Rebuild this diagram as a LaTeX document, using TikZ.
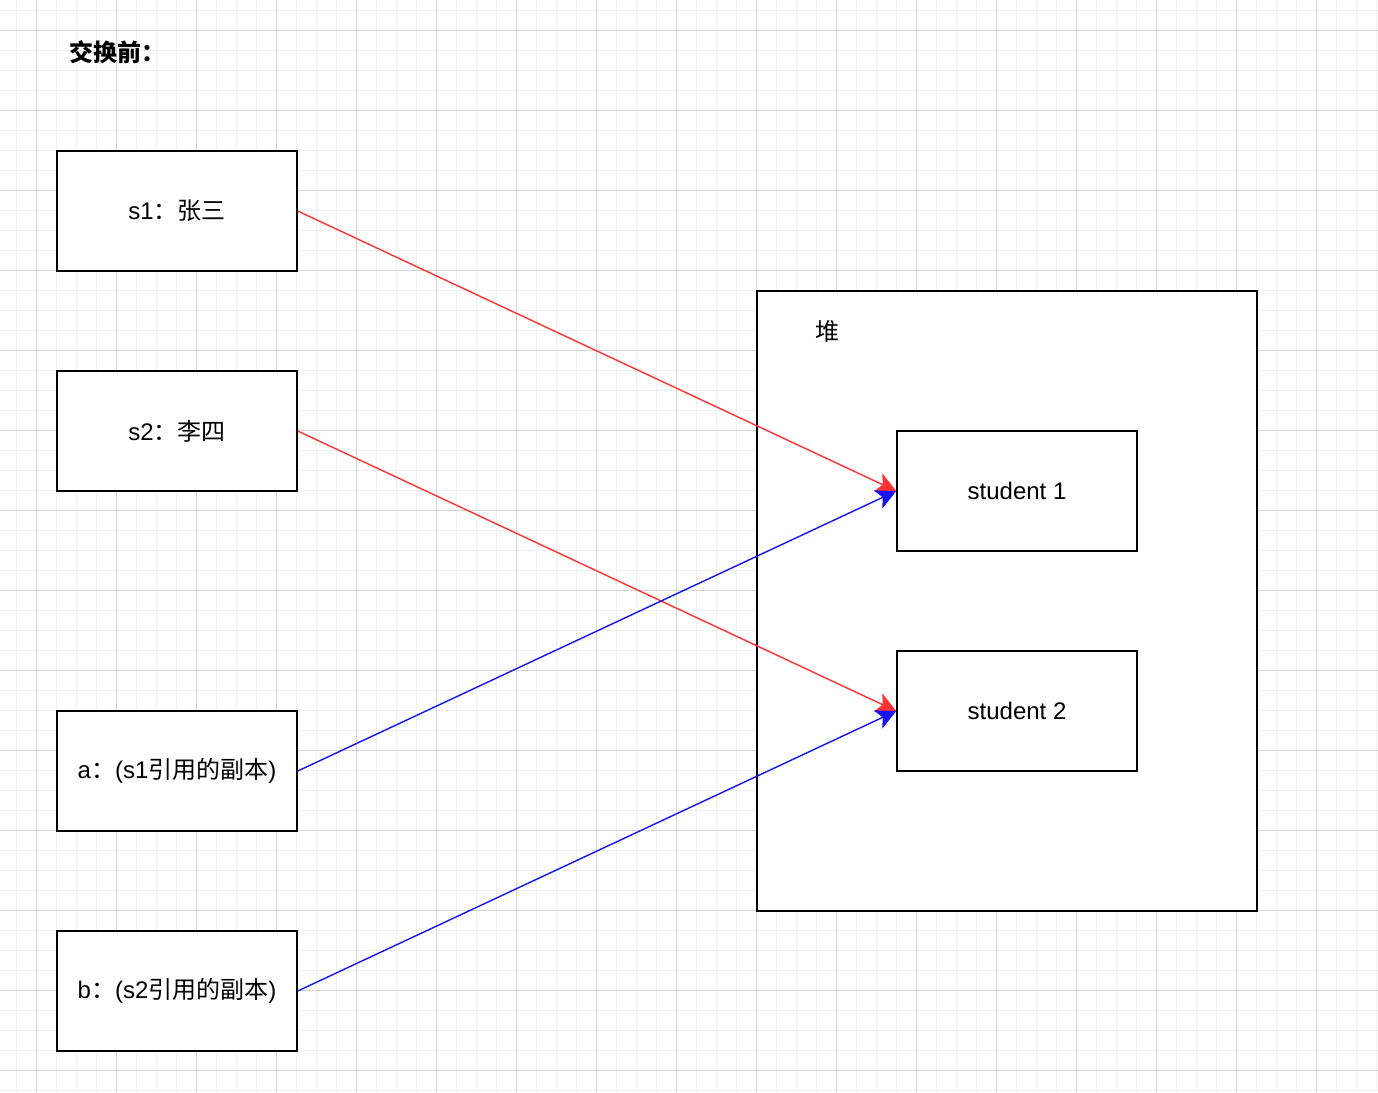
\documentclass[tikz,border=0pt]{standalone}
\usepackage{fontspec}
\setmainfont{Liberation Sans}
\newfontfamily\cjk{Noto Sans CJK SC}
\usetikzlibrary{arrows.meta}
\definecolor{gridminor}{RGB}{241,241,241}
\definecolor{gridmajor}{RGB}{212,212,212}
\definecolor{myred}{RGB}{255,51,51}
\definecolor{myblue}{RGB}{20,20,245}
\begin{document}
\begin{tikzpicture}[x=1pt,y=-1pt,
  box/.style={draw=black, line width=1.5pt, fill=white, minimum width=240pt, minimum height=120pt, inner sep=0pt, font=\fontsize{24}{28}\selectfont},
  heapbox/.style={draw=black, line width=1.5pt, fill=white, minimum width=500pt, minimum height=620pt, inner sep=0pt},
  lbl/.style={inner sep=0pt, font=\fontsize{24}{28}\selectfont},
  conn/.style={line width=1.4pt, -{Stealth[length=20pt, width=20pt, inset=5pt]}},
  redconn/.style={conn, draw=myred, fill=myred},
  blueconn/.style={conn, draw=myblue, fill=myblue}
]
\useasboundingbox (0,0) rectangle (1378,1092);
\fill[white] (0,0) rectangle (1378,1092);
% grid
\foreach \x in {16,36,...,1376} \draw[gridminor, line width=1pt] (\x,0) -- (\x,1092);
\foreach \y in {10,30,...,1090} \draw[gridminor, line width=1pt] (0,\y) -- (1378,\y);
\foreach \x in {36,116,...,1376} \draw[gridmajor, line width=1pt] (\x,0) -- (\x,1092);
\foreach \y in {30,110,...,1090} \draw[gridmajor, line width=1pt] (0,\y) -- (1378,\y);

\node[lbl, anchor=west] (title) at (69,52) {\cjk\bfseries 交换前：};

\node[box] (s1) at (177,211) {\raisebox{-1pt}{s1{\cjk ：张三}}};
\node[box] (s2) at (177,431) {\raisebox{-1pt}{s2{\cjk ：李四}}};
\node[box] (a) at (177,771) {\raisebox{-1pt}{a{\cjk ：}(s1{\cjk 引用的副本})}};
\node[box] (b) at (177,991) {\raisebox{-1pt}{b{\cjk ：}(s2{\cjk 引用的副本})}};

\node[heapbox] (heap) at (1007,601) {};
\node[lbl] (heaplbl) at (827,331) {\cjk 堆};
\node[box] (st1) at (1017,491) {student 1};
\node[box] (st2) at (1017,711) {student 2};

\draw[redconn] (s1.east) -- (st1.west);
\draw[redconn] (s2.east) -- (st2.west);
\draw[blueconn] (a.east) -- (st1.west);
\draw[blueconn] (b.east) -- (st2.west);
\end{tikzpicture}
\end{document}
